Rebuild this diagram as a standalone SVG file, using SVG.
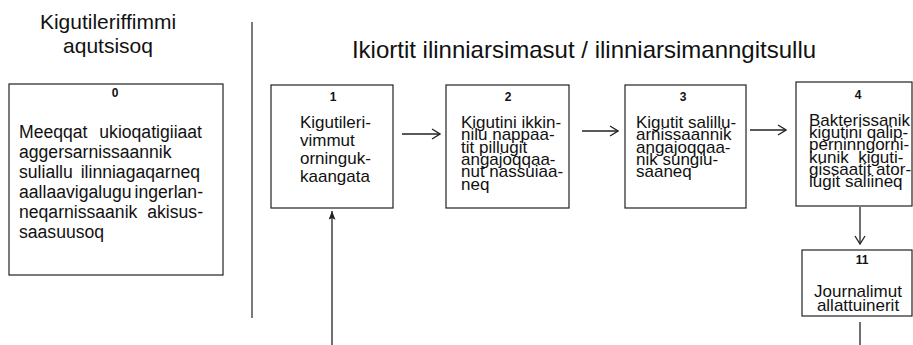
<svg xmlns="http://www.w3.org/2000/svg" width="913" height="345" viewBox="0 0 913 345">
<defs>
<style>
text{font-family:"Liberation Sans",Arial,sans-serif;fill:#111}
.box{fill:#fff;stroke:#222;stroke-width:1.2}
.num{font-size:12px;font-weight:bold;text-anchor:middle}
.body{font-size:17px}
.b0{font-size:17.6px}
.title{font-size:21px}
.conn{stroke:#222;stroke-width:1.3;fill:none}
</style>
<marker id="open" viewBox="0 0 10 12" refX="9" refY="6" markerWidth="10" markerHeight="12" markerUnits="userSpaceOnUse" orient="auto">
<path d="M1,1 L9,6 L1,11" fill="none" stroke="#222" stroke-width="1.3"/>
</marker>
<marker id="solid" viewBox="0 0 10 8" refX="10" refY="4" markerWidth="11" markerHeight="7" markerUnits="userSpaceOnUse" orient="auto">
<path d="M0,0 L10,4 L0,8 L2,4 Z" fill="#222"/>
</marker>
</defs>
<rect width="913" height="345" fill="#fff"/>

<text class="title" x="108" y="29" text-anchor="middle">Kigutileriffimmi</text>
<text class="title" x="108" y="53" text-anchor="middle">aqutsisoq</text>
<text x="584" y="58" font-size="24" text-anchor="middle">Ikiortit ilinniarsimasut / ilinniarsimanngitsullu</text>
<line x1="252" y1="22" x2="252" y2="318" stroke="#333" stroke-width="1.3"/>

<g id="node0">
<rect class="box" x="9" y="84" width="214" height="191"/>
<text class="num" x="115" y="97">0</text>
<text class="b0" x="19" y="138"><tspan x="19">Meeqqat</tspan><tspan x="202" text-anchor="end">ukioqatigiiaat</tspan></text>
<text class="b0" x="19" y="158">aggersarnissaannik</text>
<text class="b0" x="19" y="178"><tspan x="19">suliallu</tspan><tspan x="200" text-anchor="end">ilinniagaqarneq</tspan></text>
<text class="b0" x="19" y="198"><tspan x="19">aallaavigalugu</tspan><tspan x="203" text-anchor="end">ingerlan-</tspan></text>
<text class="b0" x="19" y="218"><tspan x="19">neqarnissaanik</tspan><tspan x="203" text-anchor="end">akisus-</tspan></text>
<text class="b0" x="19" y="238">saasuusoq</text>
</g>

<g id="node1">
<rect class="box" x="271" y="85" width="122" height="123"/>
<text class="num" x="333" y="101">1</text>
<text class="body" x="300" y="128">Kigutileri-</text>
<text class="body" x="300" y="146">vimmut</text>
<text class="body" x="300" y="164">orninguk-</text>
<text class="body" x="300" y="182">kaangata</text>
</g>

<g id="node2">
<rect class="box" x="446" y="85" width="123" height="123"/>
<text class="num" x="508" y="101">2</text>
<text class="body" x="461" y="128">Kigutini ikkin-</text>
<text class="body" x="461" y="140.3">nilu nappaa-</text>
<text class="body" x="461" y="152.6">tit pillugit</text>
<text class="body" x="461" y="164.9">angajoqqaa-</text>
<text class="body" x="461" y="177.2">nut nassuiaa-</text>
<text class="body" x="461" y="189.5">neq</text>
</g>

<g id="node3">
<rect class="box" x="625" y="85" width="121" height="123"/>
<text class="num" x="683" y="101">3</text>
<text class="body" x="636" y="128">Kigutit salillu-</text>
<text class="body" x="636" y="140.3">arnissaannik</text>
<text class="body" x="636" y="152.6">angajoqqaa-</text>
<text class="body" x="636" y="164.9">nik sungiu-</text>
<text class="body" x="636" y="177.2">saaneq</text>
</g>

<g id="node4">
<rect class="box" x="796" y="82" width="116" height="124"/>
<text class="num" x="858" y="99">4</text>
<text class="body" x="809" y="126">Bakterissanik</text>
<text class="body" x="809" y="138.2">kigutini qalip-</text>
<text class="body" x="809" y="150.4">perninngorni-</text>
<text class="body" x="809" y="162.6" style="white-space:pre">kunik  kiguti-</text>
<text class="body" x="809" y="174.8">gissaatit ator-</text>
<text class="body" x="809" y="187">lugit saliineq</text>
</g>

<g id="node11">
<rect class="box" x="802" y="250" width="110" height="66"/>
<text class="num" x="862" y="264">11</text>
<text class="body" font-size="16.5" x="858" y="297" text-anchor="middle">Journalimut</text>
<text class="body" font-size="16.5" x="858" y="311" text-anchor="middle">allattuinerit</text>
</g>

<g id="connectors">
<line class="conn" x1="402" y1="134" x2="440" y2="134" marker-end="url(#open)"/>
<line class="conn" x1="582" y1="131" x2="618" y2="131" marker-end="url(#open)"/>
<line class="conn" x1="750" y1="130" x2="786" y2="130" marker-end="url(#open)"/>
<line class="conn" x1="860" y1="207" x2="860" y2="244" marker-end="url(#open)"/>
<line class="conn" x1="332" y1="345" x2="332" y2="211" marker-end="url(#solid)"/>
<line class="conn" x1="860" y1="322" x2="860" y2="345"/>
</g>
</svg>
